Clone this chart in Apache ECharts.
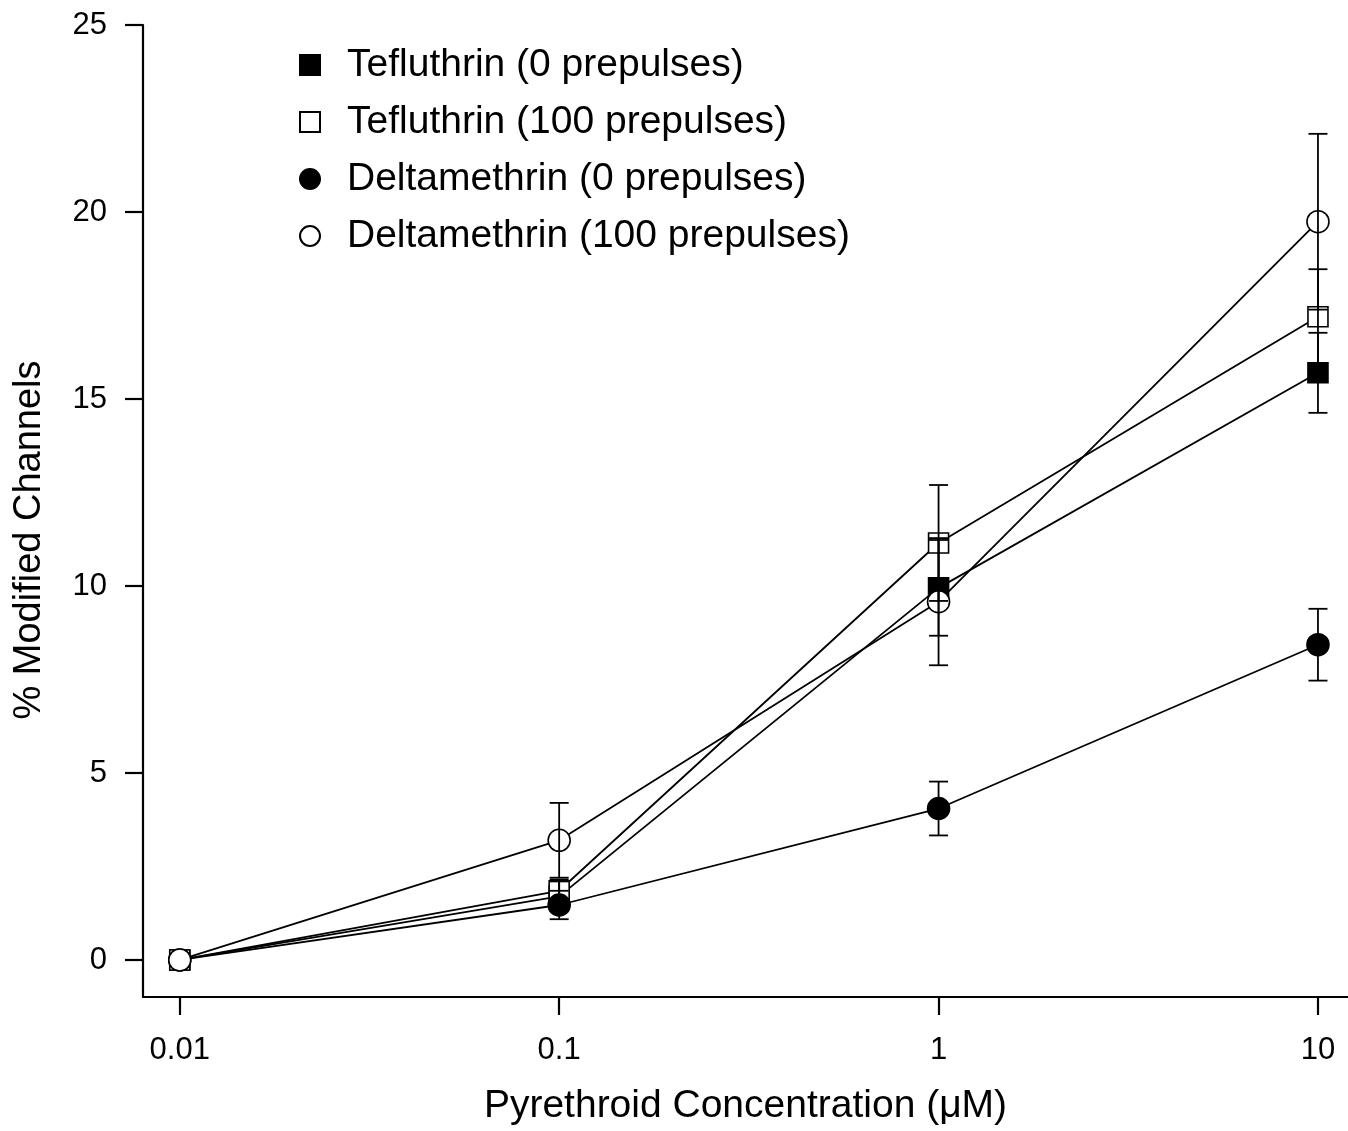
<!DOCTYPE html>
<html>
<head>
<meta charset="utf-8">
<script src="https://cdn.jsdelivr.net/npm/echarts@6/dist/echarts.min.js"></script>
<style>
  html, body { margin: 0; padding: 0; background: #fff; }
  #chart { width: 1348px; height: 1131px; }
</style>
</head>
<body>
<div id="chart"></div>
<script>
// concentrations (µM)
const concentrations = [0.01, 0.1, 1, 10];
const xTickValues = [0.01, 0.1, 1, 10];
const xTickLabels = ["0.01", "0.1", "1", "10"];
const yTickValues = [0, 5, 10, 15, 20, 25];

const seriesNames = [
  "Tefluthrin (0 prepulses)",
  "Tefluthrin (100 prepulses)",
  "Deltamethrin (0 prepulses)",
  "Deltamethrin (100 prepulses)"
];

// % modified channels, means and errors (null = no bar)
const teflu0 = [0, 1.7, 9.95, 15.7];
const teflu0Err = [null, 0.4, 1.28, 1.07];
const teflu100 = [0, 1.85, 11.15, 17.2];
const teflu100Err = [null, 0.3, 1.55, 1.27];
const delta0 = [0, 1.47, 4.05, 8.43];
const delta0Err = [null, 0.38, 0.72, 0.96];
const delta100 = [0, 3.2, 9.58, 19.74];
const delta100Err = [null, 1.0, 1.7, 2.35];

const chart = echarts.init(document.getElementById("chart"), null, { renderer: "canvas" });

const font = "Liberation Sans, Arial, Helvetica, sans-serif";

const styles = [
  { symbol: "rect", size: 20, fill: "#000" },
  { symbol: "rect", size: 20, fill: "#fff" },
  { symbol: "circle", size: 22, fill: "#000" },
  { symbol: "circle", size: 22, fill: "#fff" }
];
const means = [teflu0, teflu100, delta0, delta100];
const errs = [teflu0Err, teflu100Err, delta0Err, delta100Err];

const lineSeries = seriesNames.map((name, i) => ({
  name: name,
  type: "line",
  symbol: styles[i].symbol,
  symbolSize: styles[i].size,
  showAllSymbol: true,
  z: 2,
  lineStyle: { color: "#000", width: 1.8 },
  itemStyle: { color: styles[i].fill, borderColor: "#000", borderWidth: 1.6 },
  emphasis: { disabled: true },
  data: concentrations.map((c, j) => [c, means[i][j]])
}));

const errorData = [];
means.forEach((m, i) => {
  m.forEach((v, j) => {
    if (errs[i][j] != null) errorData.push([concentrations[j], v - errs[i][j], v + errs[i][j]]);
  });
});

const errorSeries = {
  type: "custom",
  z: 3,
  silent: true,
  data: errorData,
  renderItem: function (params, api) {
    const lo = api.coord([api.value(0), api.value(1)]);
    const hi = api.coord([api.value(0), api.value(2)]);
    const half = 9.5;
    const st = { stroke: "#000", lineWidth: 1.8 };
    return {
      type: "group",
      children: [
        { type: "line", shape: { x1: lo[0], y1: lo[1], x2: hi[0], y2: hi[1] }, style: st },
        { type: "line", shape: { x1: lo[0] - half, y1: lo[1], x2: lo[0] + half, y2: lo[1] }, style: st },
        { type: "line", shape: { x1: hi[0] - half, y1: hi[1], x2: hi[0] + half, y2: hi[1] }, style: st }
      ]
    };
  }
};

chart.setOption({
  animation: false,
  backgroundColor: "#fff",
  grid: { left: 143, top: 25, right: 0, bottom: 132 },
  legend: {
    orient: "vertical",
    left: 299,
    top: 45,
    padding: 0,
    itemWidth: 20,
    itemHeight: 20,
    itemGap: 17,
    selectedMode: false,
    data: seriesNames.map((n, i) => ({ name: n, icon: styles[i].symbol })),
    textStyle: { fontFamily: font, fontSize: 39, color: "#000", lineHeight: 40, padding: [0, 0, 0, 22] }
  },
  xAxis: {
    type: "log",
    logBase: 10,
    min: 0.008,
    max: 12,
    name: "Pyrethroid Concentration (μM)",
    nameLocation: "middle",
    nameGap: 90,
    nameTextStyle: { fontFamily: font, fontSize: 39, color: "#000" },
    axisLine: { show: true, onZero: false, lineStyle: { color: "#000", width: 2.2 } },
    axisTick: { show: true, length: 18, customValues: xTickValues, lineStyle: { color: "#000", width: 2.2 } },
    minorTick: { show: false },
    splitLine: { show: false },
    axisLabel: {
      customValues: xTickValues,
      margin: 38,
      fontFamily: font,
      fontSize: 31,
      color: "#000",
      formatter: function (v) {
        const k = xTickValues.findIndex(t => Math.abs(Math.log10(t) - Math.log10(v)) < 1e-6);
        return k >= 0 ? xTickLabels[k] : "";
      }
    }
  },
  yAxis: {
    type: "value",
    min: -0.99,
    max: 25,
    name: "% Modified Channels",
    nameLocation: "middle",
    nameGap: 94,
    nameRotate: 90,
    nameTextStyle: { fontFamily: font, fontSize: 38, color: "#000", padding: [0, 58, 0, 0] },
    axisLine: { show: true, onZero: false, lineStyle: { color: "#000", width: 2.2 } },
    axisTick: { show: true, length: 18, customValues: yTickValues, lineStyle: { color: "#000", width: 2.2 } },
    splitLine: { show: false },
    axisLabel: {
      customValues: yTickValues,
      margin: 36,
      fontFamily: font,
      fontSize: 31,
      color: "#000"
    }
  },
  series: lineSeries.concat([errorSeries])
});
</script>
</body>
</html>
